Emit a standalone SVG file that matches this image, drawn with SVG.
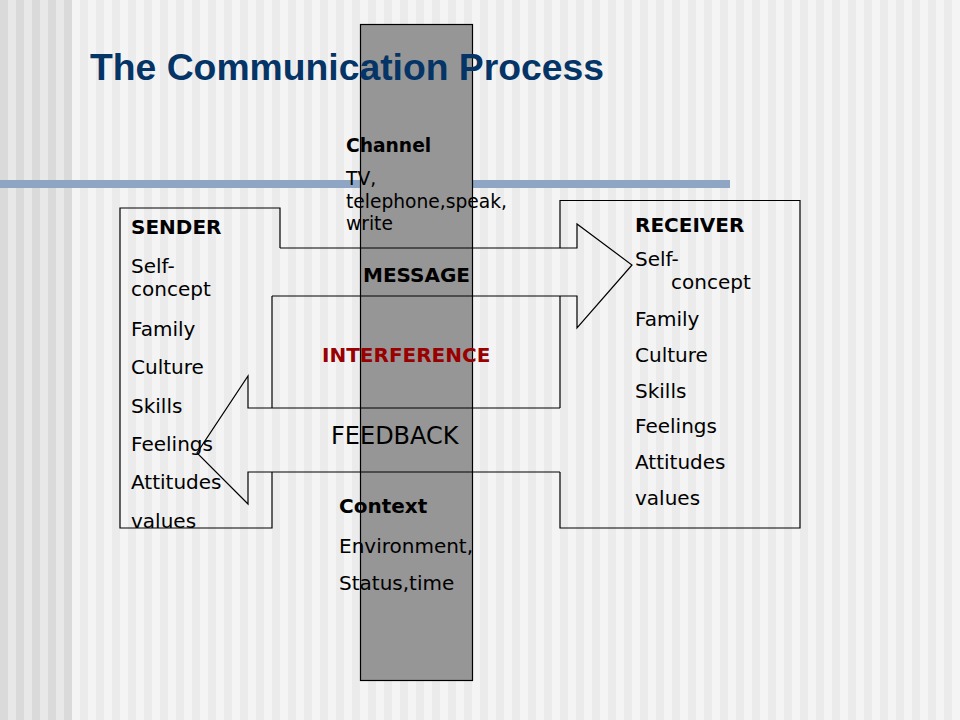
<svg xmlns="http://www.w3.org/2000/svg" width="960" height="720" viewBox="0 0 960 720">
<defs>
<pattern id="stripeR" x="0" y="0" width="16" height="16" patternUnits="userSpaceOnUse">
<rect x="0" y="0" width="16" height="16" fill="#f4f4f4"/>
<rect x="0" y="0" width="8" height="16" fill="#ebebeb"/>
</pattern>
<pattern id="stripeL" x="0" y="0" width="16" height="16" patternUnits="userSpaceOnUse">
<rect x="0" y="0" width="16" height="16" fill="#e8e8e8"/>
<rect x="0" y="0" width="8" height="16" fill="#dadada"/>
</pattern>
<style>
.t{font-family:"DejaVu Sans","Verdana",sans-serif;font-size:20px;fill:#000}
.b{font-weight:bold}
.s{font-size:18.67px}
.ln{fill:none;stroke:#000;stroke-width:1.2}
</style>
</defs>
<g id="background">
<rect x="0" y="0" width="960" height="720" fill="url(#stripeR)"/>
<rect x="0" y="0" width="72" height="720" fill="url(#stripeL)"/>
<rect x="0" y="180" width="730" height="8" fill="#8ea6c4"/>
</g>
<g id="channel-bar">
<rect x="360.5" y="24.5" width="112" height="656" fill="#969696" stroke="#000" stroke-width="1.2"/>
</g>
<text id="title" x="90" y="80" font-family="Liberation Sans, Arial, sans-serif" font-weight="bold" font-size="37.3" fill="#053466">The Communication Process</text>
<g id="sender">
<path class="ln" d="M280,248 V208 H120 V528 H272 V472 M272,408 V296"/>
<text class="t b" x="131" y="234">SENDER</text>
<text class="t" x="131" y="273">Self-</text>
<text class="t" x="131" y="296">concept</text>
<text class="t" x="131" y="336">Family</text>
<text class="t" x="131" y="374">Culture</text>
<text class="t" x="131" y="413">Skills</text>
<text class="t" x="131" y="451">Feelings</text>
<text class="t" x="131" y="489">Attitudes</text>
<text class="t" x="131" y="527.5">values</text>
</g>
<g id="receiver">
<path class="ln" d="M560,248 V200.5 H800 V528 H560 V472 M560,408 V296"/>
<text class="t b" x="635" y="232">RECEIVER</text>
<text class="t" x="635" y="266">Self-</text>
<text class="t" x="671" y="289">concept</text>
<text class="t" x="635" y="326">Family</text>
<text class="t" x="635" y="362">Culture</text>
<text class="t" x="635" y="398">Skills</text>
<text class="t" x="635" y="433">Feelings</text>
<text class="t" x="635" y="469">Attitudes</text>
<text class="t" x="635" y="505">values</text>
</g>
<g id="channel">
<text class="t s b" x="346" y="152">Channel</text>
<text class="t s" x="346" y="185">TV,</text>
<text class="t s" x="346" y="207.5">telephone,speak,</text>
<text class="t s" x="346" y="229.5">write</text>
</g>
<g id="connectors">
<g id="message-arrow">
<path class="ln" d="M280,248 H577 V224 L632,265 L577,328 V296 H272"/>
<text class="t b" x="363" y="282">MESSAGE</text>
</g>
<g id="interference">
<text class="t b" x="322" y="362" style="fill:#990000">INTERFERENCE</text>
</g>
<g id="feedback-arrow">
<path class="ln" d="M560,408 H248 V376 L197,453 L248,504 V472 H560"/>
<text class="t" x="331" y="444" style="font-size:24px">FEEDBACK</text>
</g>
</g>
<g id="context">
<text class="t b" x="339" y="513">Context</text>
<text class="t" x="339" y="553">Environment,</text>
<text class="t" x="339" y="590">Status,time</text>
</g>
</svg>
